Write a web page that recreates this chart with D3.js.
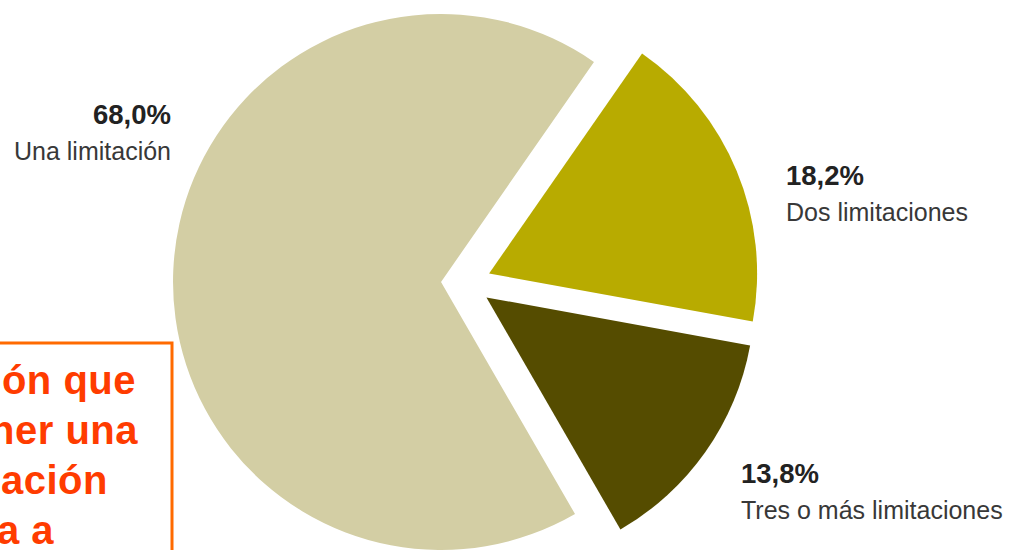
<!DOCTYPE html>
<html><head><meta charset="utf-8">
<script src="https://cdn.jsdelivr.net/npm/d3@7"></script>
<style>html,body{margin:0;padding:0;background:#fff;overflow:hidden}svg{display:block}</style>
</head><body>
<script>
const categories = ["Una limitación", "Dos limitaciones", "Tres o más limitaciones"];
const values = [68.0, 18.2, 13.8];
const valueLabels = ["68,0%", "18,2%", "13,8%"];
const colors = ["#d3cea4", "#b8ab00", "#554c00"];
const boxLines = ["ón que", "ner una", "ación", "a a"];

const W = 1013, H = 550;
const svg = d3.select("body").append("svg").attr("width", W).attr("height", H);

const cx = 466, cy = 283, R = 268, explode = 25;
const pie = d3.pie().sort(null).startAngle(150 * Math.PI / 180).endAngle(510 * Math.PI / 180);
const arcs = pie(values);
const arc = d3.arc().innerRadius(0).outerRadius(R);

const g = svg.append("g").attr("transform", `translate(${cx},${cy})`);
g.selectAll("path").data(arcs).join("path")
  .attr("d", arc)
  .attr("fill", (d, i) => colors[i])
  .attr("transform", d => {
    const a = (d.startAngle + d.endAngle) / 2;
    return `translate(${explode * Math.sin(a)},${-explode * Math.cos(a)})`;
  });

// labels
const labelPos = [
  {x: 171, y: 124, anchor: "end"},
  {x: 786, y: 185, anchor: "start"},
  {x: 741, y: 483, anchor: "start"}
];
const lg = svg.append("g").attr("font-family", "'Liberation Sans', Arial, sans-serif");
labelPos.forEach((p, i) => {
  lg.append("text").attr("x", p.x).attr("y", p.y).attr("text-anchor", p.anchor)
    .attr("font-size", 27.5).attr("font-weight", "bold").attr("fill", "#222")
    .text(valueLabels[i]);
  lg.append("text").attr("x", p.x).attr("y", p.y + 36).attr("text-anchor", p.anchor)
    .attr("font-size", 25).attr("fill", "#383838")
    .text(categories[i]);
});

// orange annotation box (clipped at the left edge)
svg.append("rect").attr("x", -20).attr("y", 343).attr("width", 192).attr("height", 230)
  .attr("fill", "#fff").attr("stroke", "#ff6a00").attr("stroke-width", 3);
const bt = svg.append("g").attr("font-family", "'Liberation Sans', Arial, sans-serif")
  .attr("font-weight", "bold").attr("font-size", 40).attr("letter-spacing", 0.5)
  .attr("fill", "#ff3c00").attr("text-anchor", "end");
const boxRight = [136, 138, 108, 54];
boxLines.forEach((t, i) => {
  bt.append("text").attr("x", boxRight[i]).attr("y", 394 + i * 50).text(t);
});
</script>
</body></html>
